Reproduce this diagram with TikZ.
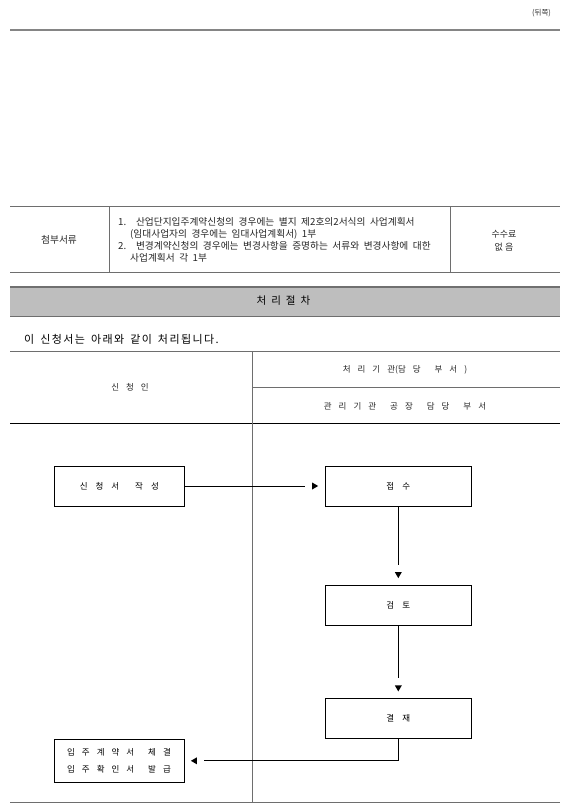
\documentclass[tikz,border=0pt]{standalone}
\usepackage{fontspec}
\setmainfont{Noto Sans CJK KR}
\usetikzlibrary{arrows.meta, positioning, decorations.markings}
\definecolor{rulegray}{HTML}{858585}
\definecolor{linegray}{HTML}{6E6E6E}
\definecolor{barfill}{HTML}{BEBEBE}
\definecolor{bardark}{HTML}{707070}
\tikzset{
    smalltxt/.style={inner sep=0pt, text=black!80, font=\fontsize{7.5}{9}\selectfont},
    tbltxt/.style={inner sep=0pt, text=black!85, font=\fontsize{9.7}{11.9}\selectfont\spaceskip 4.5pt\relax},
    headtxt/.style={inner sep=0pt, font=\fontsize{10.5}{12}\selectfont\spaceskip 5pt\relax},
    notetxt/.style={inner sep=0pt, font=\fontsize{11}{12}\selectfont\addfontfeatures{LetterSpace=13}\spaceskip 6pt\relax},
    colhead/.style={inner sep=0pt, text=black!85, font=\fontsize{8.5}{10}\selectfont\spaceskip 7pt\relax},
    tblline/.style={draw=linegray, line width=0.9pt},
    stepbox/.style={draw, line width=0.8pt, minimum width=130pt, minimum height=40pt, inner sep=0pt, font=\fontsize{8.5}{10}\selectfont\spaceskip 8pt\relax},
    % line stops short of the head, head stops short of the box
    flow/.style={line width=0.8pt, shorten >=20pt,
        postaction={decorate, decoration={markings, mark=at position 1 with {
            \fill (-6.5pt,0pt) -- (-12.5pt,3.5pt) -- (-12.5pt,-3.5pt) -- cycle;}}}}
}
\begin{document}
\begin{tikzpicture}[x=1pt, y=-1pt]
    \useasboundingbox (0,0) rectangle (567,808);

    % page head
    \node[smalltxt] (side) at (541.5,13) {(뒤쪽)};
    \draw[rulegray, line width=2.5pt] (10,30) -- (559.5,30);

    % attachment row
    \draw[tblline] (10,206.5) -- (559.5,206.5);
    \draw[tblline] (10,272.5) -- (559.5,272.5);
    \draw[tblline] (109.5,206.5) -- (109.5,272.5);
    \draw[tblline] (450.5,206.5) -- (450.5,272.5);
    \node[tbltxt] (attach) at (59,240) {첨부서류};
    \node[tbltxt, align=left, anchor=west] (docs) at (118,239.5) {1.~ 산업단지입주계약신청의 경우에는 별지 제2호의2서식의 사업계획서\\\hspace*{12pt}(임대사업자의 경우에는 임대사업계획서) 1부\\2.~ 변경계약신청의 경우에는 변경사항을 증명하는 서류와 변경사항에 대한\\\hspace*{12pt}사업계획서 각 1부};
    \node[tbltxt, align=center, font=\fontsize{9}{13.3}\selectfont] (fee) at (504,240.5) {수수료\\없 음};

    % procedure bar
    \fill[barfill] (10,287) rectangle (559.5,316);
    \draw[bardark, line width=2pt] (10,287) -- (559.5,287);
    \draw[tblline] (10,316) -- (559.5,316);
    \node[headtxt] (proc) at (283.5,300.5) {처 리 절 차};
    \node[notetxt, anchor=west] (note) at (24,339.5) {이 신청서는 아래와 같이 처리됩니다.};

    % flow table head
    \draw[tblline] (10,351.5) -- (559.5,351.5);
    \draw[tblline] (252.5,387.5) -- (559.5,387.5);
    \draw[black, line width=1.3pt] (10,423.5) -- (559.5,423.5);
    \draw[tblline] (252.5,351.5) -- (252.5,802.5);
    \draw[tblline] (10,802.5) -- (559.5,802.5);
    \node[colhead] (applicant) at (130,387.5) {신 청 인};
    \node[colhead] (agency) at (405,369.5) {처 리 기 관(담 당~ 부 서 )};
    \node[colhead] (dept) at (405,406.5) {관 리 기 관~ 공 장~ 담 당~ 부 서};

    % steps
    \node[stepbox] (write) at (119.3,486) {신 청 서~ 작 성};
    \node[stepbox, minimum width=146.5pt] (receive) at (398.3,486) {접 수};
    \node[stepbox, minimum width=146.5pt] (review) at (398.3,605) {검 토};
    \node[stepbox, minimum width=146.5pt] (approve) at (398.3,718.3) {결 재};
    \node[stepbox, minimum height=43pt, align=center, font=\fontsize{8.5}{16.7}\selectfont\spaceskip 7pt\relax] (issue) at (119,760.8) {입 주 계 약 서~ 체 결\\입 주 확 인 서~ 발 급};

    \draw[flow] (write) -- (receive);
    \draw[flow] (receive) -- (review);
    \draw[flow] (review) -- (approve);
    \draw[flow] (approve.south) |- (issue);
\end{tikzpicture}
\end{document}
